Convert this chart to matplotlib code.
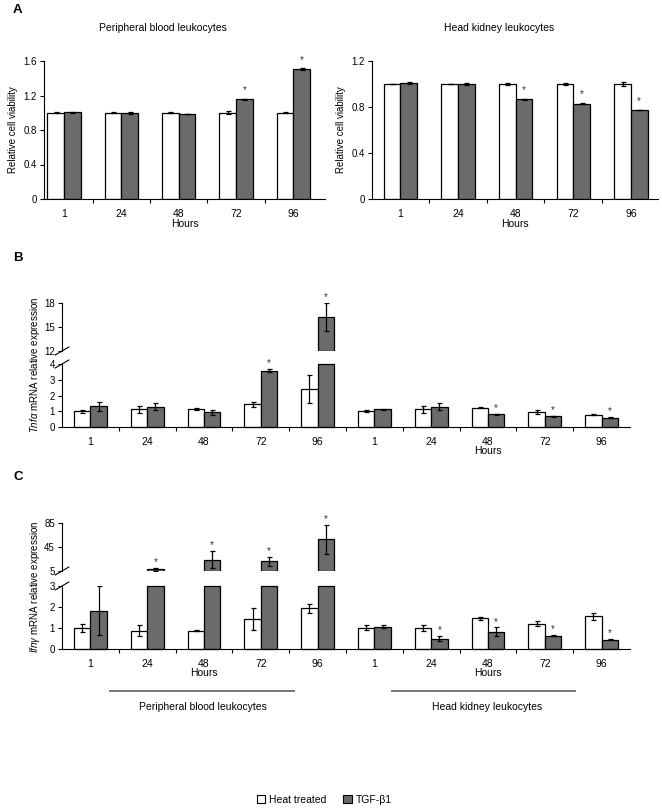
import matplotlib
matplotlib.use("Agg")
import matplotlib.pyplot as plt
import numpy as np
from matplotlib.patches import Rectangle
from matplotlib.lines import Line2D

plt.rcParams['font.family'] = ['Liberation Sans', 'DejaVu Sans']
plt.rcParams['mathtext.fontset'] = 'custom'
plt.rcParams['mathtext.it'] = 'Liberation Sans:italic'
plt.rcParams['mathtext.rm'] = 'Liberation Sans'
plt.rcParams['font.size'] = 7
plt.rcParams['xtick.labelsize'] = 7.5
plt.rcParams['ytick.labelsize'] = 7

hours = ['1', '24', '48', '72', '96']

# ---------------- Panel A: cell viability ----------------
pbl_via_heat = [1.0, 1.0, 1.0, 1.0, 1.0]
pbl_via_heat_err = [0.008, 0.004, 0.004, 0.02, 0.006]
pbl_via_tgf = [1.005, 1.0, 0.985, 1.155, 1.505]
pbl_via_tgf_err = [0.006, 0.01, 0.005, 0.01, 0.01]
pbl_via_sig = [False, False, False, True, True]

hkl_via_heat = [1.0, 1.0, 1.0, 1.0, 1.0]
hkl_via_heat_err = [0.004, 0.004, 0.008, 0.008, 0.015]
hkl_via_tgf = [1.01, 1.0, 0.868, 0.83, 0.775]
hkl_via_tgf_err = [0.006, 0.01, 0.003, 0.008, 0.003]
hkl_via_sig = [False, False, True, True, True]

# ---------------- Panel B: Tnfa ----------------
pbl_tnf_heat = [1.0, 1.12, 1.13, 1.44, 2.4]
pbl_tnf_heat_err = [0.1, 0.2, 0.05, 0.14, 0.9]
pbl_tnf_tgf = [1.32, 1.3, 0.93, 3.57, 16.3]
pbl_tnf_tgf_err = [0.28, 0.2, 0.16, 0.1, 1.75]
pbl_tnf_sig = [False, False, False, True, True]

hkl_tnf_heat = [1.02, 1.12, 1.21, 0.95, 0.78]
hkl_tnf_heat_err = [0.05, 0.2, 0.03, 0.1, 0.04]
hkl_tnf_tgf = [1.12, 1.29, 0.8, 0.68, 0.59]
hkl_tnf_tgf_err = [0.03, 0.22, 0.05, 0.03, 0.03]
hkl_tnf_sig = [False, False, True, True, True]

# ---------------- Panel C: Ifng ----------------
pbl_ifn_heat = [1.0, 0.88, 0.88, 1.42, 1.94]
pbl_ifn_heat_err = [0.18, 0.24, 0.04, 0.53, 0.22]
pbl_ifn_tgf = [1.83, 8.0, 24.0, 21.0, 58.0]
pbl_ifn_tgf_err = [1.18, 2.5, 14.0, 7.0, 24.0]
pbl_ifn_sig = [False, True, True, True, True]

hkl_ifn_heat = [1.02, 1.0, 1.47, 1.21, 1.55]
hkl_ifn_heat_err = [0.1, 0.12, 0.07, 0.13, 0.18]
hkl_ifn_tgf = [1.07, 0.49, 0.83, 0.64, 0.44]
hkl_ifn_tgf_err = [0.08, 0.12, 0.2, 0.03, 0.03]
hkl_ifn_sig = [False, True, True, True, True]

legend_labels = ['Heat treated', 'TGF-β1']
group_titles = ['Peripheral blood leukocytes', 'Head kidney leukocytes']

GRAY = '#6b6b6b'
W = 0.29
EKW = dict(ecolor='black', elinewidth=0.9, capsize=1.8, capthick=0.9)

W_PX, H_PX = 662, 810
fig = plt.figure(figsize=(W_PX / 100, H_PX / 100), dpi=100)


def rect(x0, y_top, x1, y_bot):
    return [x0 / W_PX, 1 - y_bot / H_PX, (x1 - x0) / W_PX, (y_bot - y_top) / H_PX]


def style_x(ax, n, xlim):
    ax.set_xlim(*xlim)
    ax.set_xticks(np.arange(n))
    ax.set_xticklabels((hours * 2)[:n])
    ax.tick_params(axis='x', which='major', length=0, pad=7)
    ax.set_xticks(np.arange(n - 1) + 0.5, minor=True)
    ax.tick_params(axis='x', which='minor', length=3, direction='out', width=0.8)
    for s in ['top', 'right']:
        ax.spines[s].set_visible(False)
    for s in ['left', 'bottom']:
        ax.spines[s].set_linewidth(0.8)
    ax.tick_params(axis='y', length=3, width=0.8, pad=2)


def star(ax, x, y):
    ax.annotate('*', (x, y), xytext=(0, 0.5), textcoords='offset points',
                ha='center', va='bottom', fontsize=7, color='#333333', clip_on=False)


# ---- Panel A ----
def panel_a(r, heat, heat_err, tgf, tgf_err, sig, ymax, ticks, xlim):
    ax = fig.add_axes(r)
    x = np.arange(len(heat))
    ax.bar(x - W / 2, heat, W, color='white', edgecolor='black', linewidth=0.9)
    ax.bar(x + W / 2, tgf, W, color=GRAY, edgecolor='black', linewidth=0.9)
    ax.errorbar(x - W / 2, heat, yerr=heat_err, fmt='none', **EKW)
    ax.errorbar(x + W / 2, tgf, yerr=tgf_err, fmt='none', **EKW)
    for i, s in enumerate(sig):
        if s:
            star(ax, x[i] + W / 2, tgf[i] + tgf_err[i] + 0.02 * ymax)
    ax.set_ylim(0, ymax)
    ax.set_yticks(ticks)
    style_x(ax, len(heat), xlim)
    ax.set_xlabel('Hours', labelpad=0, fontsize=7.5)
    ax.set_ylabel('Relative cell viability', labelpad=4, fontsize=7)
    return ax


axA1 = panel_a(rect(44, 61, 325, 199), pbl_via_heat, pbl_via_heat_err, pbl_via_tgf,
               pbl_via_tgf_err, pbl_via_sig, 1.6, [0, 0.4, 0.8, 1.2, 1.6], (-0.35, 4.55))
axA2 = panel_a(rect(372, 61, 658, 199), hkl_via_heat, hkl_via_heat_err, hkl_via_tgf,
               hkl_via_tgf_err, hkl_via_sig, 1.2, [0, 0.4, 0.8, 1.2], (-0.49, 4.47))
axA1.set_yticklabels(['0', '0.4', '0.8', '1.2', '1.6'])
axA2.set_yticklabels(['0', '0.4', '0.8', '1.2'])

fig.text(163 / W_PX, 1 - 28 / H_PX, group_titles[0], ha='center', va='center', fontsize=7.5)
fig.text(499 / W_PX, 1 - 28 / H_PX, group_titles[1], ha='center', va='center', fontsize=7.5)


# ---- Broken-axis panels ----
def broken(r_hi, r_lo, heat, heat_err, tgf, tgf_err, sig, lo_top, lo_ticks,
           hi_lim, hi_ticks, hours_at, ylabel, ylabel_y):
    ax_hi = fig.add_axes(r_hi)
    ax_lo = fig.add_axes(r_lo)
    n = len(heat)
    x = np.arange(n)
    heat = np.asarray(heat, float)
    tgf = np.asarray(tgf, float)
    heat_err = np.asarray(heat_err, float)
    tgf_err = np.asarray(tgf_err, float)
    for xs, vals, errs, col in [(x - W / 2, heat, heat_err, 'white'),
                                (x + W / 2, tgf, tgf_err, GRAY)]:
        ax_lo.bar(xs, np.minimum(vals, lo_top), W, color=col, edgecolor='black',
                  linewidth=0.9, clip_on=False)
        lo = vals <= lo_top
        ax_lo.errorbar(xs[lo], vals[lo], yerr=errs[lo], fmt='none', **EKW)
        hi = vals > hi_lim[0]
        if hi.any():
            ax_hi.bar(xs[hi], vals[hi] - hi_lim[0], W, bottom=hi_lim[0], color=col,
                      edgecolor='black', linewidth=0.9)
            ax_hi.errorbar(xs[hi], vals[hi], yerr=errs[hi], fmt='none', **EKW)
    for i, s in enumerate(sig):
        if s:
            if tgf[i] > hi_lim[0]:
                star(ax_hi, x[i] + W / 2, tgf[i] + tgf_err[i])
            else:
                star(ax_lo, x[i] + W / 2, tgf[i] + tgf_err[i])
    xlim = (-0.5, n - 0.5)
    ax_lo.set_ylim(0, lo_top)
    ax_lo.set_yticks(lo_ticks)
    style_x(ax_lo, n, xlim)
    ax_hi.set_xlim(*xlim)
    ax_hi.set_ylim(*hi_lim)
    ax_hi.set_yticks(hi_ticks)
    ax_hi.set_xticks([])
    for s in ['top', 'right', 'bottom']:
        ax_hi.spines[s].set_visible(False)
    ax_hi.spines['left'].set_linewidth(0.8)
    ax_hi.tick_params(axis='y', length=3, width=0.8, pad=2)
    ax_hi.patch.set_alpha(0)
    ax_lo.patch.set_alpha(0)
    # break marks
    for ax, yy in [(ax_hi, 0.0), (ax_lo, 1.0)]:
        h = ax.get_position().height * H_PX
        dy = 4.0 / h
        ax.plot([-0.012, 0.012], [yy - dy, yy + dy], transform=ax.transAxes,
                color='black', lw=0.8, clip_on=False)
    for hx in hours_at:
        ax_lo.text(hx, -0.38, 'Hours', transform=ax_lo.get_xaxis_transform(),
                   ha='center', va='center', fontsize=7.5)
    fig.text(35 / W_PX, 1 - ylabel_y / H_PX, ylabel, rotation=90, ha='center',
             va='center', fontsize=7)
    return ax_hi, ax_lo


broken(rect(62, 303, 630, 351), rect(62, 364, 630, 427),
       pbl_tnf_heat + hkl_tnf_heat, pbl_tnf_heat_err + hkl_tnf_heat_err,
       pbl_tnf_tgf + hkl_tnf_tgf, pbl_tnf_tgf_err + hkl_tnf_tgf_err,
       pbl_tnf_sig + hkl_tnf_sig, 4, [0, 1, 2, 3, 4], (12, 18), [12, 15, 18],
       [7], r'$\it{Tnf\alpha}$ mRNA relative expression', 365)

broken(rect(62, 523, 630, 571), rect(62, 586, 630, 649),
       pbl_ifn_heat + hkl_ifn_heat, pbl_ifn_heat_err + hkl_ifn_heat_err,
       pbl_ifn_tgf + hkl_ifn_tgf, pbl_ifn_tgf_err + hkl_ifn_tgf_err,
       pbl_ifn_sig + hkl_ifn_sig, 3, [0, 1, 2, 3], (5, 85), [5, 45, 85],
       [2, 7], r'$\it{Ifn\gamma}$ mRNA relative expression', 587)

# group lines and labels under panel C
for x0, x1, xc, t in [(110, 294, 203, group_titles[0]), (392, 575, 487, group_titles[1])]:
    fig.add_artist(Line2D([x0 / W_PX, x1 / W_PX], [1 - 691 / H_PX] * 2,
                          color='#777777', lw=1.4, transform=fig.transFigure))
    fig.text(xc / W_PX, 1 - 707 / H_PX, t, ha='center', va='center', fontsize=7.5)

# panel letters
for letter, yy in [('A', 10), ('B', 258), ('C', 477)]:
    fig.text(13 / W_PX, 1 - yy / H_PX, letter, ha='left', va='center',
             fontsize=9.5, fontweight='bold')

handles = [Rectangle((0, 0), 1, 1, facecolor='white', edgecolor='black', lw=0.8),
           Rectangle((0, 0), 1, 1, facecolor=GRAY, edgecolor='black', lw=0.8)]
fig.legend(handles, legend_labels, loc='center', bbox_to_anchor=(0.49, 1 - 800 / H_PX),
           ncol=2, frameon=False, fontsize=7.5, handlelength=0.8, handleheight=0.8,
           handletextpad=0.4, columnspacing=1.6)

fig.savefig('out.png', dpi=100)
